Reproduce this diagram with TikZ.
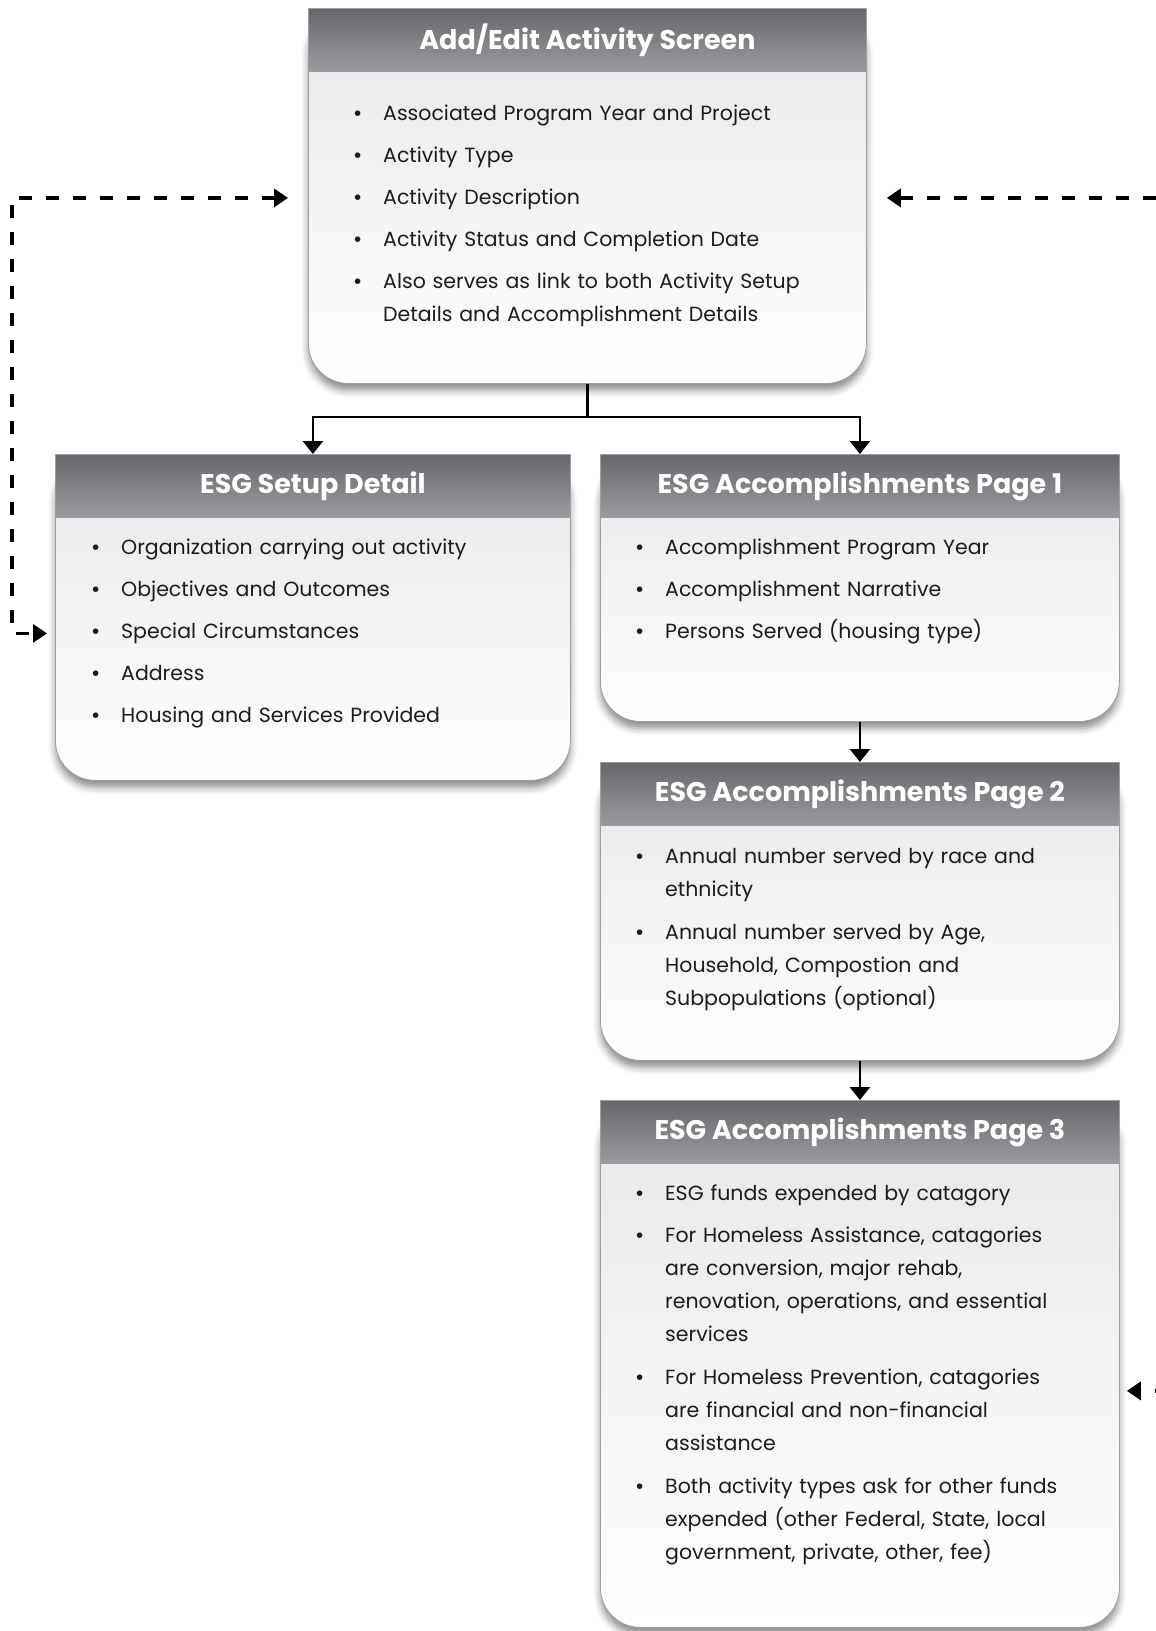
\documentclass[tikz,border=0pt]{standalone}
\usepackage{fontspec}
\setmainfont{Poppins}
\newfontfamily\bulfont{Liberation Sans}
\usetikzlibrary{positioning, arrows.meta, shadows.blur}

\definecolor{headtop}{HTML}{67686B}
\definecolor{headbot}{HTML}{9A9B9E}
\definecolor{bodytop}{HTML}{E6E7E8}
\definecolor{edgegray}{HTML}{9E9E9E}
\definecolor{inktext}{HTML}{1C1C1C}

% one bullet item, continuation lines kept under the text
\newcommand{\bul}[1]{\par\noindent\strut\makebox[29pt][l]{\bulfont\textbullet}\parbox[t]{430pt}{\strut#1\strut}\par}

\begin{document}
\begin{tikzpicture}[
    x=1pt, y=-1pt,
    card/.style={rectangle, draw=edgegray, line width=0.8pt, rounded corners=40pt, top color=bodytop, bottom color=white, anchor=north west, inner sep=0pt,
        blur shadow={shadow xshift=0pt, shadow yshift=-7pt, shadow blur radius=7pt, shadow opacity=45}},
    cardhead/.style={rectangle, draw=edgegray, line width=0.8pt, top color=headtop, bottom color=headbot, anchor=north, minimum height=63pt, inner sep=0pt, text=white, font=\fontsize{27}{30}\selectfont\bfseries},
    cardtext/.style={anchor=north west, inner sep=0pt, text width=470pt, align=left, text=inktext, font=\fontsize{20.5}{33}\selectfont\setlength{\parskip}{9pt}},
    link/.style={-{Triangle[width=20pt,length=13pt]}, line width=2.6pt},
    dashlink/.style={{Triangle[width=18pt,length=14pt]}-{Triangle[width=18pt,length=14pt]}, line width=3.3pt, dash pattern=on 13pt off 14pt}
]
\useasboundingbox (0,0) rectangle (1156,1631);

% Activity screen on top
\node[card, minimum width=558pt, minimum height=375pt] (acts) at (308,8) {};
\node[cardhead, minimum width=558pt] (acts-h) at (acts.north) {Add/Edit Activity Screen};
\node[cardtext] (acts-t) at (354,78) {%
  \bul{Associated Program Year and Project}
  \bul{Activity Type}
  \bul{Activity Description}
  \bul{Activity Status and Completion Date}
  \bul{Also serves as link to both Activity Setup\\ Details and Accomplishment Details}};

% Setup detail, left column
\node[card, minimum width=515pt, minimum height=326pt] (setup) at (55,454) {};
\node[cardhead, minimum width=515pt] (setup-h) at (setup.north) {ESG Setup Detail};
\node[cardtext] (setup-t) at (92,512) {%
  \bul{Organization carrying out activity}
  \bul{Objectives and Outcomes}
  \bul{Special Circumstances}
  \bul{Address}
  \bul{Housing and Services Provided}};

% Accomplishment pages, right column
\node[card, minimum width=519pt, minimum height=267pt] (pg1) at (600,454) {};
\node[cardhead, minimum width=519pt] (pg1-h) at (pg1.north) {ESG Accomplishments Page 1};
\node[cardtext] (pg1-t) at (636,512) {%
  \bul{Accomplishment Program Year}
  \bul{Accomplishment Narrative}
  \bul{Persons Served (housing type)}};

\node[card, minimum width=519pt, minimum height=298pt] (pg2) at (600,762) {};
\node[cardhead, minimum width=519pt] (pg2-h) at (pg2.north) {ESG Accomplishments Page 2};
\node[cardtext] (pg2-t) at (636,821) {%
  \bul{Annual number served by race and\\ ethnicity}
  \bul{Annual number served by Age,\\ Household, Compostion and\\ Subpopulations (optional)}};

\node[card, minimum width=519pt, minimum height=527pt] (pg3) at (600,1100) {};
\node[cardhead, minimum width=519pt] (pg3-h) at (pg3.north) {ESG Accomplishments Page 3};
\node[cardtext] (pg3-t) at (636,1158) {%
  \bul{ESG funds expended by catagory}
  \bul{For Homeless Assistance, catagories\\ are conversion, major rehab,\\ renovation, operations, and essential\\ services}
  \bul{For Homeless Prevention, catagories\\ are financial and non-financial\\ assistance}
  \bul{Both activity types ask for other funds\\ expended (other Federal, State, local\\ government, private, other, fee)}};

% Solid links
\draw[link] (acts.south) -- ++(0,33) -| (setup.north);
\draw[link] (acts.south) -- ++(0,33) -| (pg1.north);
\draw[link] (pg1.south) -- (pg2.north);
\draw[link] (pg2.south) -- (pg3.north);

% Dashed return links
\draw[dashlink] ([xshift=-20pt,yshift=-2pt]acts.west) -| ([xshift=-43pt,yshift=-16pt]setup.west) -- ([xshift=-8pt,yshift=-16pt]setup.west);
\draw[dashlink] ([xshift=20pt,yshift=-2pt]acts.east) -| ([xshift=60pt,yshift=-27pt]pg3.east) -- ([xshift=7pt,yshift=-27pt]pg3.east);

\end{tikzpicture}
\end{document}
